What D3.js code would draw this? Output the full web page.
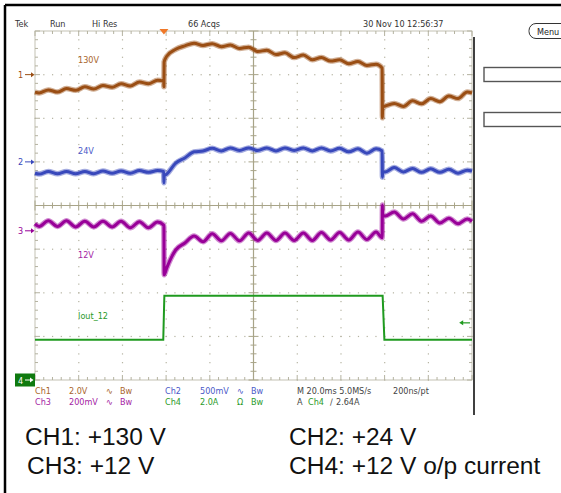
<!DOCTYPE html>
<html><head><meta charset="utf-8">
<script src="https://cdn.jsdelivr.net/npm/d3@7"></script>
<style>
html,body{margin:0;padding:0;background:#fff;}
svg{display:block;}
.st{font-family:"DejaVu Sans Condensed","DejaVu Sans",sans-serif;font-size:9px;}
.big{font-family:"Liberation Sans",Arial,sans-serif;font-size:24.5px;fill:#111;}
</style></head>
<body>
<svg id="c" width="561" height="493"></svg>
<script>
// time (ms) samples shared by CH1..CH3, values in screen divisions (0 = bottom, 8 = top)
const T = [0,1.9,6.1,10.3,14.4,18.6,22.8,26.9,31.1,35.3,39.4,43.6,47.8,51.9,56.1,58.9,
  59.0,59.1,
  60.3,64.4,68.6,72.8,76.9,81.1,85.3,89.4,93.6,97.8,101.9,106.1,110.3,114.4,118.6,122.8,126.9,131.1,135.3,139.4,143.6,147.8,151.9,156.1,158.9,
  159.0,159.1,
  160.3,164.4,168.6,172.8,176.9,181.1,185.3,189.4,193.6,197.8,200];
const ch1 = [6.60,6.58,6.65,6.60,6.68,6.64,6.72,6.67,6.75,6.71,6.79,6.74,6.83,6.79,6.87,6.85,
  6.72,7.29,
  7.42,7.58,7.66,7.72,7.67,7.71,7.64,7.68,7.60,7.63,7.53,7.56,7.46,7.50,7.39,7.45,7.34,7.39,7.31,7.34,7.25,7.30,7.21,7.24,7.15,
  6.01,6.26,
  6.28,6.34,6.27,6.40,6.33,6.45,6.38,6.51,6.45,6.60,6.58];
const ch2 = [4.74,4.72,4.78,4.73,4.78,4.73,4.78,4.73,4.79,4.74,4.79,4.74,4.80,4.76,4.80,4.78,
  4.52,4.68,
  4.72,4.97,5.09,5.23,5.25,5.31,5.25,5.32,5.26,5.32,5.26,5.32,5.25,5.32,5.26,5.32,5.25,5.32,5.25,5.31,5.23,5.30,5.20,5.30,5.25,
  4.65,4.77,
  4.77,4.87,4.77,4.85,4.76,4.84,4.76,4.83,4.74,4.81,4.79];
const ch3 = [3.58,3.52,3.65,3.52,3.65,3.51,3.64,3.51,3.64,3.51,3.64,3.49,3.63,3.49,3.62,3.55,
  3.50,2.41,
  2.57,2.98,3.14,3.30,3.17,3.35,3.19,3.36,3.19,3.37,3.20,3.37,3.20,3.37,3.20,3.37,3.20,3.38,3.21,3.38,3.21,3.39,3.22,3.39,3.26,
  4.01,3.76,
  3.76,3.85,3.69,3.81,3.64,3.76,3.60,3.71,3.58,3.69,3.64];
const ch4T = [0,58.7,59.2,159.1,159.9,200];
const ch4 = [0.92,0.92,1.93,1.93,0.92,0.92];

const traceLabels = ["130V","24V","12V","Iout_12"];
const traceLabelLevel = [7.27,5.17,2.80,1.40];
const markerLevel = [7.0,5.0,3.42,0];
const topTexts = [["Tek",15],["Run",50],["Hi Res",92],["66 Acqs",188],["30 Nov 10 12:56:37",363]];
const statusRow1 = [["Ch1",35,0],["2.0V",69,0],["\u223F",106,0],["Bw",120,0],["Ch2",165,1],["500mV",200,1],["\u223F",237,1],["Bw",251,1],["M 20.0ms 5.0MS/s",297,4],["200ns/pt",393,4]];
const statusRow2 = [["Ch3",35,2],["200mV",69,2],["\u223F",106,2],["Bw",120,2],["Ch4",165,3],["2.0A",200,3],["\u03A9",237,3],["Bw",251,3],["A",297,4],["Ch4",308,3],["\u2215",330,4],["2.64A",336,4]];
const captions = [["CH1: +130 V",25,445],["CH2: +24 V",289,445],["CH3: +12 V",27,474],["CH4: +12 V o/p current",289,474]];

const colors = ["#9a4e14","#3848bb","#980098","#1f9a1f","#444"];
const labelColors = ["#a8642c","#4a5ac8","#a424a4","#2a9a2a","#444"];

const svg = d3.select("#c");
const x = d3.scaleLinear().domain([0,200]).range([35,472]);
const y = d3.scaleLinear().domain([0,8]).range([380,31]);

// frame
svg.append("line").attr("x1",5).attr("x2",561).attr("y1",5).attr("y2",5).attr("stroke","#000").attr("stroke-width",2.5);
svg.append("line").attr("x1",5).attr("x2",5).attr("y1",5).attr("y2",493).attr("stroke","#000").attr("stroke-width",2.5);
svg.append("line").attr("x1",474).attr("x2",474).attr("y1",37).attr("y2",415).attr("stroke","#000").attr("stroke-width",1.5);

// graticule
const g = svg.append("g");
const gridCol = "#b4b2a0", axCol = "#a8a488";
const minorX = d3.range(0,200.01,4), minorY = d3.range(0,8.001,0.2);
d3.range(20,200,20).forEach(t=>{
  if (t===100) return;
  minorY.forEach(v=>g.append("rect").attr("x",x(t)-0.5).attr("y",y(v)-0.5).attr("width",1.2).attr("height",1.2).attr("fill",gridCol));
});
d3.range(1,8,1).forEach(v=>{
  if (v===4) return;
  minorX.forEach(t=>g.append("rect").attr("x",x(t)-0.5).attr("y",y(v)-0.5).attr("width",1.2).attr("height",1.2).attr("fill",gridCol));
});
g.append("rect").attr("x",x(0)).attr("y",y(8)).attr("width",x(200)-x(0)).attr("height",y(0)-y(8)).attr("fill","none").attr("stroke",gridCol).attr("stroke-width",0.8);
minorX.forEach((t,i)=>{
  const L = (i%5===0)?5:3;
  g.append("line").attr("x1",x(t)).attr("x2",x(t)).attr("y1",y(8)).attr("y2",y(8)+L).attr("stroke",gridCol);
  g.append("line").attr("x1",x(t)).attr("x2",x(t)).attr("y1",y(0)).attr("y2",y(0)-L).attr("stroke",gridCol);
});
minorY.forEach((v,i)=>{
  const L = (i%5===0)?5:3;
  g.append("line").attr("x1",x(0)).attr("x2",x(0)+L).attr("y1",y(v)).attr("y2",y(v)).attr("stroke",gridCol);
  g.append("line").attr("x1",x(200)).attr("x2",x(200)-L).attr("y1",y(v)).attr("y2",y(v)).attr("stroke",gridCol);
});
g.append("line").attr("x1",x(100)).attr("x2",x(100)).attr("y1",y(8)).attr("y2",y(0)).attr("stroke",axCol).attr("stroke-width",1.2);
g.append("line").attr("x1",x(0)).attr("x2",x(200)).attr("y1",y(4)).attr("y2",y(4)).attr("stroke",axCol).attr("stroke-width",1.2);
minorX.forEach((t,i)=>{
  const L = (i%5===0)?5:3;
  g.append("line").attr("x1",x(t)).attr("x2",x(t)).attr("y1",y(4)-L).attr("y2",y(4)+L).attr("stroke",axCol);
});
minorY.forEach((v,i)=>{
  const L = (i%5===0)?5:3;
  g.append("line").attr("x1",x(100)-L).attr("x2",x(100)+L).attr("y1",y(v)).attr("y2",y(v)).attr("stroke",axCol);
});

// traces
const line = d3.line().curve(d3.curveMonotoneX);
[ch1,ch2,ch3].forEach((vals,k)=>{
  const pts = T.map((t,i)=>[x(t),y(vals[i])]);
  svg.append("path").attr("d",line(pts)).attr("fill","none").attr("stroke",colors[k]).attr("stroke-width",5.5).attr("stroke-opacity",0.45).attr("stroke-linejoin","round");
  svg.append("path").attr("d",line(pts)).attr("fill","none").attr("stroke",colors[k]).attr("stroke-width",3).attr("stroke-linejoin","round");
});
const pts4 = ch4T.map((t,i)=>[x(t),y(ch4[i])]);
svg.append("path").attr("d",d3.line()(pts4)).attr("fill","none").attr("stroke",colors[3]).attr("stroke-width",2);

traceLabels.forEach((s,k)=>{
  svg.append("text").attr("class","st").attr("x",78).attr("y",y(traceLabelLevel[k])).attr("fill",labelColors[k]).text(s);
});

[0,1,2].forEach(k=>{
  const yy = y(markerLevel[k]);
  svg.append("text").attr("class","st").attr("x",18).attr("y",yy+3.5).attr("fill",colors[k]).text(String(k+1));
  svg.append("line").attr("x1",25).attr("x2",31).attr("y1",yy).attr("y2",yy).attr("stroke",colors[k]).attr("stroke-width",1);
  svg.append("path").attr("d",`M31,${yy-2.5}L34.5,${yy}L31,${yy+2.5}Z`).attr("fill",colors[k]);
});
{
  const yy = y(markerLevel[3]);
  svg.append("rect").attr("x",15).attr("y",yy-6.5).attr("width",20).attr("height",13).attr("fill","#0f7a0f");
  svg.append("text").attr("class","st").attr("x",18).attr("y",yy+3.5).attr("fill","#fff").text("4");
  svg.append("line").attr("x1",25).attr("x2",31).attr("y1",yy).attr("y2",yy).attr("stroke","#fff");
  svg.append("path").attr("d",`M30,${yy-2.5}L33.5,${yy}L30,${yy+2.5}Z`).attr("fill","#fff");
}
{
  const yy = y(1.31);
  svg.append("line").attr("x1",x(195.5)).attr("x2",x(200)-2).attr("y1",yy).attr("y2",yy).attr("stroke",colors[3]).attr("stroke-width",1.2);
  svg.append("path").attr("d",`M${x(195.5)-3},${yy}L${x(195.5)+1},${yy-2.5}L${x(195.5)+1},${yy+2.5}Z`).attr("fill",colors[3]);
}
svg.append("path").attr("d",`M${x(59)-4.5},${y(8)-2}L${x(59)+4.5},${y(8)-2}L${x(59)},${y(8)+3.5}Z`).attr("fill","#f07828");

topTexts.forEach(([s,xx])=>svg.append("text").attr("class","st").attr("x",xx).attr("y",27).attr("fill","#333").text(s));

svg.append("rect").attr("x",529).attr("y",23.5).attr("width",45).attr("height",15).attr("rx",7).attr("fill","#fff").attr("stroke","#333").attr("stroke-width",1);
svg.append("text").attr("class","st").attr("x",537).attr("y",34.5).attr("fill","#222").text("Menu");
svg.append("rect").attr("x",484).attr("y",67.5).attr("width",90).attr("height",14).attr("fill","none").attr("stroke","#555").attr("stroke-width",1.4);
svg.append("rect").attr("x",484).attr("y",112.5).attr("width",90).attr("height",14).attr("fill","none").attr("stroke","#555").attr("stroke-width",1.4);

statusRow1.forEach(([s,xx,c])=>svg.append("text").attr("class","st").attr("x",xx).attr("y",394).attr("fill",labelColors[c]).text(s));
statusRow2.forEach(([s,xx,c])=>svg.append("text").attr("class","st").attr("x",xx).attr("y",405).attr("fill",labelColors[c]).text(s));

captions.forEach(([s,xx,yy])=>svg.append("text").attr("class","big").attr("x",xx).attr("y",yy).text(s));
</script>
</body></html>
